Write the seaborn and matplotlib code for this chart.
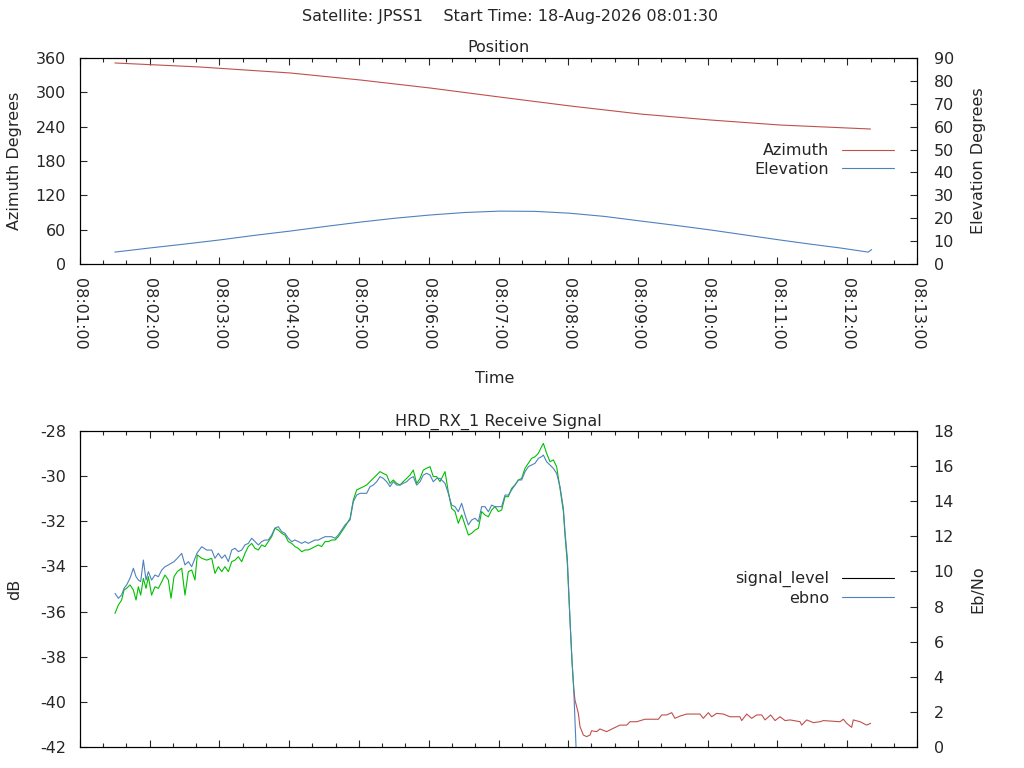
import pandas as pd
import matplotlib
matplotlib.use("Agg")
import matplotlib.pyplot as plt
import matplotlib.dates as mdates
from matplotlib.lines import Line2D
import seaborn as sns

START = pd.Timestamp("2026-08-18 08:01:00")

# Position (seconds after 08:01:00)
az_sec = [30, 103, 181, 241, 301, 361, 422, 482, 542, 602, 680]
azimuth = [351.3, 344.3, 333.8, 321.6, 307.6, 291.8, 276.1, 262.1, 251.7, 242.9, 235.9]

el_sec = [30, 60, 90, 120, 150, 181, 211, 241, 271, 301, 331, 361, 391, 421, 451,
          482, 512, 542, 572, 602, 628, 654, 678, 681]
elevation = [5.2, 7.0, 8.7, 10.5, 12.5, 14.4, 16.4, 18.3, 20.0, 21.4, 22.5, 23.1, 23.0, 22.2, 20.8,
             18.8, 16.9, 14.9, 12.7, 10.5, 8.7, 7.0, 5.2, 6.3]

# Receive signal while locked (seconds after 08:01:00)
sig_sec = [
    30.1, 33.0, 35.8, 37.9, 40.1, 43.0, 45.9, 48.2, 50.2, 52.2,
    54.5, 56.8, 58.8, 61.6, 64.5, 67.4, 70.3, 73.1, 76.0, 78.3,
    80.9, 83.7, 87.5, 90.3, 93.2, 96.1, 98.9, 100.9, 104.7, 109.0,
    113.3, 116.1, 119.0, 121.9, 124.7, 127.6, 130.5, 133.3, 136.2, 139.1,
    141.9, 144.8, 147.7, 150.5, 153.4, 156.3, 159.1, 162.0, 164.9, 167.7,
    170.6, 173.5, 176.3, 179.2, 182.1, 184.9, 187.8, 190.7, 193.6, 196.4,
    199.3, 202.2, 205.0, 207.9, 210.8, 213.6, 216.5, 219.4, 222.2, 225.1,
    228.0,
    232.3, 235.1, 238.0, 240.9, 243.7, 246.6, 249.5, 252.3, 255.2, 258.1,
    260.9, 263.8, 266.7, 269.5, 272.4, 275.3, 278.1, 281.0, 283.9, 286.7,
    289.6, 292.5, 295.3, 298.2, 301.1, 303.9, 306.8, 309.7, 314.0, 316.8,
    319.7, 322.6, 325.4, 328.3, 331.2, 334.1, 336.9, 339.8, 342.7, 345.5,
    348.4, 351.3, 354.1, 357.0, 359.9, 362.7, 365.6, 368.5, 371.3, 374.2,
    377.1, 379.9, 382.8, 385.7, 388.5, 391.4, 394.3, 397.1, 398.6, 401.4,
    404.3, 407.2, 410.0, 412.9, 415.8, 417.2, 419.2,
    421.5, 423.2, 424.9,
]
sig_db = [
    -36.08, -35.71, -35.49, -35.04, -34.97, -34.82, -35.04, -35.49, -34.90, -35.27,
    -34.53, -34.97, -34.45, -35.27, -34.90, -34.97, -34.68, -34.38, -34.60, -35.41,
    -34.45, -34.23, -34.08, -35.27, -34.23, -34.16, -34.60, -33.49, -33.64, -33.72,
    -33.64, -34.31, -34.01, -34.23, -34.01, -34.23, -33.79, -33.72, -33.57, -33.79,
    -33.42, -33.12, -32.98, -33.20, -33.27, -33.05, -33.12, -32.90, -32.68, -32.31,
    -32.39, -32.53, -32.61, -32.90, -32.98, -33.12, -33.20, -33.35, -33.27, -33.27,
    -33.20, -33.12, -33.05, -33.12, -32.90, -32.90, -32.83, -32.83, -32.68, -32.46,
    -32.24,
    -31.87, -31.06, -30.61, -30.54, -30.47, -30.39, -30.24, -30.10, -29.95, -29.80,
    -29.88, -29.95, -30.32, -30.17, -30.32, -30.39, -30.24, -30.10, -29.95, -29.73,
    -30.32, -30.10, -29.73, -29.65, -29.58, -30.02, -30.02, -30.24, -29.80, -30.69,
    -31.43, -31.57, -32.09, -31.72, -32.16, -32.61, -32.53, -32.39, -32.31, -31.57,
    -31.72, -31.80, -31.50, -31.35, -31.57, -31.50, -30.91, -30.91, -30.54, -30.39,
    -30.17, -30.10, -29.65, -29.43, -29.21, -29.14, -28.99, -28.69, -28.55, -28.99,
    -29.36, -29.28, -29.58, -30.54, -31.57, -32.61, -33.86,
    -36.40, -38.20, -39.50,
]
ebno = [
    8.75, 8.47, 8.66, 9.04, 9.23, 9.61, 10.18, 9.70, 9.51, 9.42,
    10.65, 9.51, 9.99, 9.51, 9.80, 9.70, 10.08, 10.27, 10.37, 10.46,
    10.56, 10.75, 11.03, 10.37, 10.56, 10.27, 10.75, 11.07, 11.41, 11.22,
    11.22, 10.75, 11.03, 10.75, 10.94, 10.56, 11.22, 11.32, 11.13, 11.22,
    11.51, 11.60, 11.89, 11.70, 11.51, 11.70, 11.79, 11.79, 12.08, 12.47,
    12.55, 12.27, 12.17, 11.89, 11.70, 11.79, 11.70, 11.60, 11.70, 11.60,
    11.70, 11.79, 11.79, 11.89, 11.98, 11.98, 11.98, 11.89, 12.08, 12.36,
    12.65,
    12.93, 13.97, 14.35, 14.45, 14.45, 14.45, 14.83, 14.92, 15.11, 15.40,
    15.30, 15.11, 14.83, 15.11, 14.92, 14.92, 15.02, 15.11, 15.30, 15.40,
    14.92, 15.11, 15.49, 15.59, 15.49, 15.11, 15.30, 15.30, 15.02, 14.45,
    13.78, 13.69, 13.40, 13.88, 13.22, 12.65, 12.93, 13.03, 12.84, 13.69,
    13.69, 13.40, 13.78, 13.69, 13.69, 13.69, 14.35, 14.35, 14.64, 14.92,
    15.21, 15.21, 15.68, 15.97, 16.06, 16.16, 16.44, 16.54, 16.63, 16.25,
    16.06, 15.87, 15.59, 14.83, 13.60, 12.27, 10.75,
    7.20, 5.00, 3.00, 1.50, 0.00,
]
ebno_tail_sec = [425.8, 426.7]

# after loss of lock
lost_sec = [
    424.9, 425.8, 428.7, 430.1, 433.0, 435.8, 438.7, 440.1, 444.4, 447.3,
    453.0, 458.8, 464.5, 470.3, 473.1, 478.9, 486.0, 497.5, 500.4, 504.7,
    509.0, 511.8, 516.1, 521.9, 533.3, 536.2, 540.5, 543.4, 547.7, 553.4,
    559.1, 567.7, 569.2, 573.5, 577.8, 582.1, 586.4, 589.3, 594.1, 597.9,
    602.2, 606.5, 610.8, 619.4, 620.8, 625.1, 630.8, 636.6, 639.4, 645.2,
    653.8, 656.6, 659.5, 663.8, 665.2, 671.0, 676.7, 680.1,
]
lost_db = [
    -39.50, -39.92, -40.51, -41.10, -41.47, -41.54, -41.47, -41.28, -41.32, -41.20,
    -41.32, -41.17, -41.03, -41.03, -40.88, -40.88, -40.77, -40.77, -40.58, -40.58,
    -40.48, -40.73, -40.63, -40.54, -40.54, -40.73, -40.48, -40.66, -40.51, -40.54,
    -40.66, -40.66, -40.83, -40.54, -40.73, -40.58, -40.58, -40.80, -40.58, -40.83,
    -40.66, -40.83, -40.80, -40.88, -41.03, -40.80, -40.92, -40.88, -40.83, -40.85,
    -40.88, -40.77, -40.95, -41.13, -40.80, -40.88, -41.03, -40.95,
]

RED = "#c0504d"
BLUE = "#4f81bd"
GREEN = "#00c000"
LW = 0.8
FS = 11.5


def to_time(sec):
    return START + pd.to_timedelta(sec, unit="s")


def style_axes(ax, twin, show_xlabels):
    for a in (ax, twin):
        for s in a.spines.values():
            s.set_visible(True)
            s.set_linewidth(0.8)
            s.set_color("black")
        a.grid(False)
    ax.set_xlim(START, START + pd.Timedelta(minutes=12))
    ax.xaxis.set_major_locator(mdates.MinuteLocator())
    ax.xaxis.set_minor_locator(mdates.SecondLocator(bysecond=[20, 40]))
    ax.xaxis.set_major_formatter(mdates.DateFormatter("%H:%M:%S"))
    ax.tick_params(axis="x", which="major", direction="in", length=5, width=0.8,
                   top=True, bottom=True, pad=10, labelsize=FS, labelrotation=270,
                   labelbottom=show_xlabels)
    ax.tick_params(axis="x", which="minor", direction="in", length=3, width=0.8,
                   top=True, bottom=True)
    ax.tick_params(axis="y", direction="in", length=5, width=0.8, pad=10,
                   labelsize=FS, left=True, right=False)
    twin.tick_params(axis="y", direction="in", length=5, width=0.8, pad=12,
                     labelsize=FS, right=True, left=False)


sns.set_style("ticks")
plt.rcParams["font.family"] = ["DejaVu Sans"]
plt.rcParams["axes.unicode_minus"] = False

fig = plt.figure(figsize=(10.24, 7.68), dpi=100)
ax1 = fig.add_axes([80 / 1024, 1 - 264 / 768, 837 / 1024, 206 / 768])
ax1b = ax1.twinx()
ax2 = fig.add_axes([80 / 1024, 1 - 747 / 768, 837 / 1024, 316 / 768])
ax2b = ax2.twinx()

legend_kw = dict(loc="center right", frameon=False, markerfirst=False, handlelength=3.25,
                 fontsize=FS, labelspacing=0.2, handletextpad=0.8, borderaxespad=0)

# Position panel
sns.lineplot(x=to_time(az_sec), y=azimuth, ax=ax1, color=RED, linewidth=LW, legend=False)
sns.lineplot(x=to_time(el_sec), y=elevation, ax=ax1b, color=BLUE, linewidth=LW, legend=False)
ax1.set_ylim(0, 360)
ax1.set_yticks(range(0, 361, 60))
ax1b.set_ylim(0, 90)
ax1b.set_yticks(range(0, 91, 10))
style_axes(ax1, ax1b, True)
ax1.set_title("Position", fontsize=FS, pad=4)
ax1.set_ylabel("Azimuth Degrees", fontsize=FS)
ax1b.set_ylabel("Elevation Degrees", fontsize=FS, rotation=90)
ax1.yaxis.set_label_coords(-0.069, 0.5)
ax1b.yaxis.set_label_coords(1.064, 0.5)
ax1.set_xlabel("Time", fontsize=FS)
ax1.xaxis.set_label_coords(0.496, -0.52)
ax1b.legend(
    handles=[Line2D([], [], color=RED, lw=LW), Line2D([], [], color=BLUE, lw=LW)],
    labels=["Azimuth", "Elevation"], bbox_to_anchor=(0.98, 0.505), **legend_kw)

# Receive signal panel
sns.lineplot(x=to_time(sig_sec), y=sig_db, ax=ax2, color=GREEN, linewidth=LW, legend=False)
sns.lineplot(x=to_time(lost_sec), y=lost_db, ax=ax2, color=RED, linewidth=LW, legend=False)
sns.lineplot(x=to_time(sig_sec + ebno_tail_sec), y=ebno, ax=ax2b, color=BLUE,
             linewidth=LW, legend=False)
ax2.set_ylim(-42, -28)
ax2.set_yticks(range(-42, -27, 2))
ax2b.set_ylim(0, 18)
ax2b.set_yticks(range(0, 19, 2))
style_axes(ax2, ax2b, False)
ax2.set_title("HRD_RX_1 Receive Signal", fontsize=FS, pad=4)
ax2.set_ylabel("dB", fontsize=FS)
ax2b.set_ylabel("Eb/No", fontsize=FS, rotation=90)
ax2.yaxis.set_label_coords(-0.069, 0.5)
ax2b.yaxis.set_label_coords(1.064, 0.5)
ax2.set_xlabel("")
ax2b.legend(
    handles=[Line2D([], [], color="black", lw=LW), Line2D([], [], color=BLUE, lw=LW)],
    labels=["signal_level", "ebno"], bbox_to_anchor=(0.98, 0.502), **legend_kw)

fig.text(0.4985, 1 - 17 / 768, "Satellite: JPSS1    Start Time: 18-Aug-2026 08:01:30",
         ha="center", va="center", fontsize=FS)

fig.savefig("out.png", dpi=100)
